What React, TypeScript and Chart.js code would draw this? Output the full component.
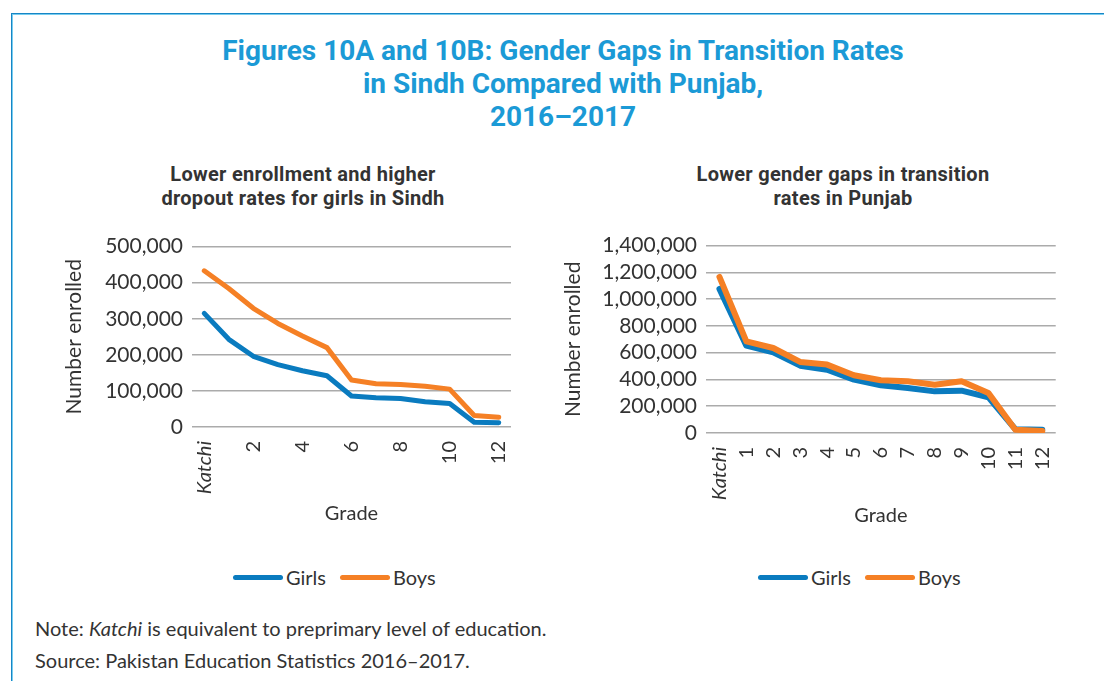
import React, { useEffect, useRef } from "react";
import { Chart, registerables } from "chart.js";

Chart.register(...registerables);

// ---------- data ----------
const grades = ["Katchi", "1", "2", "3", "4", "5", "6", "7", "8", "9", "10", "11", "12"];

const sindhGirls = [315000, 243000, 196000, 173000, 156000, 142000, 86000, 81000, 79000, 70000, 65000, 13000, 12000];
const sindhBoys = [433000, 384000, 329000, 287000, 252000, 220000, 130000, 120000, 118000, 113000, 105000, 32000, 27000];

const punjabGirls = [1076000, 653000, 603000, 503000, 473000, 399000, 356000, 336000, 311000, 316000, 267000, 28000, 25000];
const punjabBoys = [1166000, 685000, 635000, 531000, 511000, 431000, 394000, 386000, 361000, 386000, 299000, 25000, 15000];

const sindhYMax = 500000;
const sindhYStep = 100000;
const punjabYMax = 1400000;
const punjabYStep = 200000;

const seriesNames = ["Girls", "Boys"];

// ---------- style ----------
const BLUE = "#0a7bbf";
const ORANGE = "#f58025";
const TEXT = "#333333";
const GRID = "#ababab";
const TICK_FONT = "Lato, 'Open Sans', sans-serif";

type Cfg = {
  girls: number[];
  boys: number[];
  yMax: number;
  yStep: number;
  padLeft: number;
  padRight: number;
  padTop: number;
  padBottom: number;
  yWidth: number;
  xHeight: number;
  everyOther: boolean;
  lineWidth: number;
};

function LineChart({ cfg, width, height }: { cfg: Cfg; width: number; height: number }) {
  const ref = useRef<HTMLCanvasElement | null>(null);
  useEffect(() => {
    if (!ref.current) return;
    const chart = new Chart(ref.current, {
      type: "line",
      data: {
        labels: grades,
        datasets: [
          {
            label: seriesNames[0],
            data: cfg.girls,
            borderColor: BLUE,
            backgroundColor: BLUE,
            borderWidth: cfg.lineWidth,
            pointRadius: 0,
            tension: 0,
            borderJoinStyle: "round",
            borderCapStyle: "round",
            order: 1,
          },
          {
            label: seriesNames[1],
            data: cfg.boys,
            borderColor: ORANGE,
            backgroundColor: ORANGE,
            borderWidth: cfg.lineWidth,
            pointRadius: 0,
            tension: 0,
            borderJoinStyle: "round",
            borderCapStyle: "round",
            order: 0,
          },
        ],
      },
      options: {
        responsive: false,
        animation: false,
        devicePixelRatio: 1,
        layout: {
          padding: { left: cfg.padLeft, right: cfg.padRight, top: cfg.padTop, bottom: cfg.padBottom },
        },
        plugins: {
          legend: { display: false },
          title: { display: false },
          tooltip: { enabled: false },
        },
        scales: {
          x: {
            type: "category",
            offset: true,
            grid: { display: false, drawTicks: false },
            border: { display: false },
            ticks: {
              autoSkip: false,
              minRotation: 90,
              maxRotation: 90,
              padding: 14,
              color: TEXT,
              font: (ctx: any) => ({
                family: TICK_FONT,
                size: 20,
                style: ctx.index === 0 ? "italic" : "normal",
              }),
              callback: function (this: any, _v: any, i: number) {
                if (cfg.everyOther && i % 2 === 1) return "";
                return grades[i];
              },
            },
            title: {
              display: true,
              text: "Grade",
              color: TEXT,
              font: { family: TICK_FONT, size: 20 },
              padding: { top: 4, bottom: 4 },
            },
            afterFit: (scale: any) => {
              scale.height = cfg.xHeight;
            },
          },
          y: {
            min: 0,
            max: cfg.yMax,
            grid: { color: GRID, lineWidth: 1.5, drawTicks: false },
            border: { display: false },
            ticks: {
              stepSize: cfg.yStep,
              autoSkip: false,
              padding: 9,
              color: TEXT,
              font: { family: TICK_FONT, size: 21 },
              callback: (v: any) => Number(v).toLocaleString("en-US"),
            },
            title: {
              display: true,
              text: "Number enrolled",
              color: TEXT,
              font: { family: TICK_FONT, size: 21 },
              padding: { top: 4, bottom: 4 },
            },
            afterFit: (scale: any) => {
              scale.width = cfg.yWidth;
            },
          },
        },
      },
    } as any);
    return () => chart.destroy();
  }, [cfg]);
  return <canvas ref={ref} width={width} height={height} style={{ width, height, display: "block" }} />;
}

function Legend({ left, top }: { left: number; top: number }) {
  const item = (color: string, name: string, gapAfter: number) => (
    <div style={{ display: "flex", alignItems: "center", marginRight: gapAfter }}>
      <span
        style={{
          display: "inline-block",
          width: 50,
          height: 5,
          borderRadius: 3,
          background: color,
          marginRight: 3,
        }}
      />
      <span>{name}</span>
    </div>
  );
  return (
    <div
      style={{
        position: "absolute",
        left,
        top,
        height: 24,
        display: "flex",
        alignItems: "center",
        fontFamily: TICK_FONT,
        fontSize: 20,
        color: TEXT,
        lineHeight: "24px",
      }}
    >
      {item(BLUE, seriesNames[0], 14)}
      {item(ORANGE, seriesNames[1], 0)}
    </div>
  );
}

const leftCfg: Cfg = {
  girls: sindhGirls,
  boys: sindhBoys,
  yMax: sindhYMax,
  yStep: sindhYStep,
  padLeft: 18,
  padRight: 29,
  padTop: 10,
  padBottom: 5,
  yWidth: 134,
  xHeight: 103,
  everyOther: true,
  lineWidth: 5,
};

const rightCfg: Cfg = {
  girls: punjabGirls,
  boys: punjabBoys,
  yMax: punjabYMax,
  yStep: punjabYStep,
  padLeft: 12,
  padRight: 19,
  padTop: 10,
  padBottom: 2,
  yWidth: 149,
  xHeight: 99,
  everyOther: false,
  lineWidth: 6,
};

export default function App() {
  const subStyle: React.CSSProperties = {
    position: "absolute",
    textAlign: "center",
    fontFamily: "Roboto, 'Open Sans', sans-serif",
    fontWeight: 700,
    fontSize: 20,
    letterSpacing: 0.3,
    lineHeight: "24px",
    color: TEXT,
  };
  const noteStyle: React.CSSProperties = {
    position: "absolute",
    left: 35,
    fontFamily: TICK_FONT,
    fontSize: 20,
    lineHeight: "24px",
    color: TEXT,
    whiteSpace: "nowrap",
  };
  return (
    <div
      style={{
        position: "absolute",
        left: 0,
        top: 0,
        width: 1104,
        height: 681,
        background: "#ffffff",
        overflow: "hidden",
      }}
    >
      {/* frame */}
      <div
        style={{
          position: "absolute",
          left: 11,
          top: 13,
          width: 1104,
          height: 700,
          borderTop: "1px solid #1786c6",
          borderLeft: "1px solid #1786c6",
        }}
      />
      <div
        style={{
          position: "absolute",
          left: 12,
          top: 14,
          width: 1104,
          height: 700,
          borderTop: "1px solid #79cdef",
          borderLeft: "1px solid #79cdef",
        }}
      />
      {/* main title */}
      <div
        style={{
          position: "absolute",
          left: 22,
          top: 34,
          width: 1082,
          textAlign: "center",
          fontFamily: "Roboto, 'Open Sans', sans-serif",
          fontWeight: 700,
          fontSize: 28,
          lineHeight: "33px",
          color: "#1b9ad6",
        }}
      >
        <div>Figures 10A and 10B: Gender Gaps in Transition Rates</div>
        <div>in Sindh Compared with Punjab,</div>
        <div>2016–2017</div>
      </div>
      {/* subtitles */}
      <div style={{ ...subStyle, left: 103, width: 400, top: 162 }}>
        <div>Lower enrollment and higher</div>
        <div>dropout rates for girls in Sindh</div>
      </div>
      <div style={{ ...subStyle, left: 643, width: 400, top: 162 }}>
        <div>Lower gender gaps in transition</div>
        <div>rates in Punjab</div>
      </div>
      {/* charts */}
      <div style={{ position: "absolute", left: 40, top: 225 }}>
        <LineChart cfg={leftCfg} width={500} height={310} />
      </div>
      <div style={{ position: "absolute", left: 545, top: 224 }}>
        <LineChart cfg={rightCfg} width={536} height={310} />
      </div>
      {/* legends */}
      <Legend left={233} top={565} />
      <Legend left={758} top={565} />
      {/* notes */}
      <div style={{ ...noteStyle, top: 616 }}>
        Note: <i>Katchi</i> is equivalent to preprimary level of education.
      </div>
      <div style={{ ...noteStyle, top: 648 }}>Source: Pakistan Education Statistics 2016–2017.</div>
    </div>
  );
}
